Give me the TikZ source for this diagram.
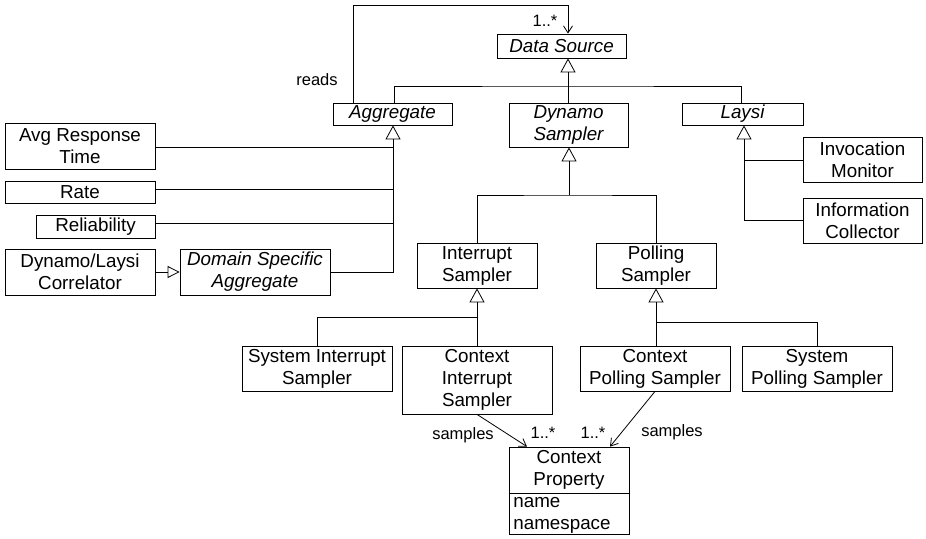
\documentclass[tikz,border=0pt]{standalone}
\usepackage{fontspec}
\setmainfont{Liberation Sans}
\usetikzlibrary{arrows.meta}
\begin{document}
\begin{tikzpicture}[x=1pt,y=-1pt,
  box/.style={draw,line width=0.8pt,inner sep=0pt,align=center,font=\fontsize{18.8}{22}\selectfont},
  lbl/.style={inner sep=0pt,font=\fontsize{16.5}{19}\selectfont},
  ln/.style={line width=0.8pt},
  gen/.style={ln,-{Triangle[open,length=14pt,width=15pt]}},
  real/.style={ln,-{Triangle[open,length=12pt,width=12pt]}},
  assoc/.style={ln,-{Straight Barb[length=7pt,width=9pt]}}]
\useasboundingbox (0,0) rectangle (926,538);
% classes
\node[box,minimum width=129pt,minimum height=24pt] (ds) at (561.5,46) {\itshape Data Source};
\node[box,minimum width=119pt,minimum height=22pt] (agg) at (392.5,114) {\itshape Aggregate};
\node[box,minimum width=119pt,minimum height=44pt] (dyn) at (568.5,125) {\itshape Dynamo\\\itshape Sampler};
\node[box,minimum width=121pt,minimum height=22pt] (lay) at (742.5,114) {\itshape Laysi};
\node[box,minimum width=119pt,minimum height=45pt] (im) at (862.5,159.5) {Invocation\\Monitor};
\node[box,minimum width=119pt,minimum height=45pt] (ic) at (862.5,220.5) {Information\\Collector};
\node[box,minimum width=150pt,minimum height=46pt] (avg) at (80,146) {Avg Response\\Time};
\node[box,minimum width=150pt,minimum height=22pt] (rate) at (80,192) {Rate};
\node[box,minimum width=119pt,minimum height=23pt] (rel) at (95.5,226.5) {Reliability};
\node[box,minimum width=150pt,minimum height=46pt] (cor) at (80,272) {Dynamo/Laysi\\Correlator};
\node[box,minimum width=150pt,minimum height=46pt] (dsa) at (255,272) {\itshape Domain Specific\\\itshape Aggregate};
\node[box,minimum width=120pt,minimum height=45pt] (is) at (477,265.5) {Interrupt\\Sampler};
\node[box,minimum width=120pt,minimum height=45pt] (ps) at (656,265.5) {Polling\\Sampler};
\node[box,minimum width=150pt,minimum height=45pt] (sis) at (317,368.5) {System Interrupt\\Sampler};
\node[box,minimum width=150pt,minimum height=68pt] (cis) at (477,380) {Context\\Interrupt\\Sampler};
\node[box,minimum width=150pt,minimum height=45pt] (cps) at (655,368.5) {Context\\Polling Sampler};
\node[box,minimum width=150pt,minimum height=45pt] (sps) at (817,368.5) {System\\Polling Sampler};
\node[box,minimum width=120pt,minimum height=46pt] (cpt) at (569,470) {Context\\Property};
\node[box,minimum width=120pt,minimum height=41pt] (cpa) at (569,513.5) {};
\node[box,draw=none,align=left,anchor=west] (cpatext) at (513,515) {name\\namespace};
% reads association
\coordinate (r1) at ([xshift=-39.5pt]agg.north);
\coordinate (r2) at ([xshift=6.5pt]ds.north);
\draw[assoc] (r1) -- (r1 |- 0,5) -- (r2 |- 0,5) -- (r2);
\node[lbl] (reads) at (317,80) {reads};
\node[lbl] (m1) at (545,21) {1..*};
% generalization to Data Source
\coordinate (dsj) at (568,86);
\draw[gen] (dyn.north -| dsj) -- (dsj |- ds.south);
\draw[ln] ([xshift=1.5pt]agg.north) |- (dsj) -| ([xshift=-1.5pt]lay.north);
% generalization to Aggregate
\coordinate (aj) at (393,272);
\draw[gen] (dsa.east) -- (aj) -- (aj |- agg.south);
\draw[ln] (avg.east |- 0,147) -- (aj |- 0,147);
\draw[ln] (rate.east |- 0,189) -- (aj |- 0,189);
\draw[ln] (rel.east |- 0,223) -- (aj |- 0,223);
% realization
\draw[real] (cor.east) -- (dsa.west);
% generalization to Laysi
\coordinate (lj) at (744,220);
\draw[gen] (ic.west |- lj) -- (lj) -- (lj |- lay.south);
\draw[ln] (im.west |- 0,160) -- (lj |- 0,160);
% generalization to Dynamo Sampler
\coordinate (dj) at (569,195);
\draw[gen] (dj) -- (dj |- dyn.south);
\draw[ln] (is.north) |- (dj) -| (ps.north);
% generalization to Interrupt Sampler
\coordinate (ij) at (477,317);
\draw[gen] (cis.north) -- (is.south);
\draw[ln] (sis.north) |- (ij);
% generalization to Polling Sampler
\coordinate (pj) at (656,322);
\draw[gen] (pj |- cps.north) -- (ps.south);
\draw[ln] (sps.north) |- (pj);
% samples associations
\draw[assoc] (cis.south) -- ([xshift=-42pt]cpt.north);
\draw[assoc] (cps.south) -- ([xshift=41pt]cpt.north);
\node[lbl] (s1) at (463,435) {samples};
\node[lbl] (m2) at (543,433) {1..*};
\node[lbl] (m3) at (593,433) {1..*};
\node[lbl] (s2) at (672,432) {samples};
\end{tikzpicture}
\end{document}
